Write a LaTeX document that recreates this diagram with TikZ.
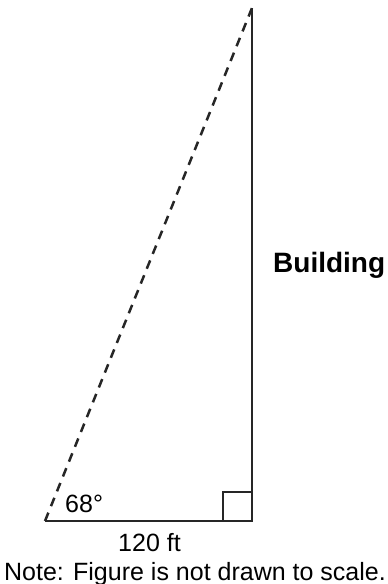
\documentclass[tikz,border=0pt]{standalone}
\usepackage{fontspec}
\setmainfont{Liberation Sans}
\usetikzlibrary{positioning}

\begin{document}
\begin{tikzpicture}[x=1pt,y=1pt,
    side/.style={line width=2.5pt,black!85},
    sight/.style={line width=2.5pt,black!85,dash pattern=on 9pt off 7pt},
    lbl/.style={font=\fontsize{25}{28}\selectfont,inner sep=0pt,anchor=base}]
    \useasboundingbox (0,0) rectangle (388,584);
    \coordinate (base) at (45,63);
    \coordinate (foot) at (252,63);
    \coordinate (top) at (252,576);
    \draw[side] (base)--(foot)--(top);
    \draw[sight] (base)--(top);
    \draw[side] (foot)++(-29,0) |- ++(29,29);
    \node[lbl,anchor=base west] (ang) at (65,71) {68°};
    \node[lbl] (len) at (149.5,32) {120 ft};
    \node[lbl,font=\fontsize{28}{32}\selectfont\bfseries,anchor=base west] (bldg) at (273,311) {Building};
    \node[lbl] (note) at (195,4) {Note: Figure is not drawn to scale.};
\end{tikzpicture}
\end{document}
